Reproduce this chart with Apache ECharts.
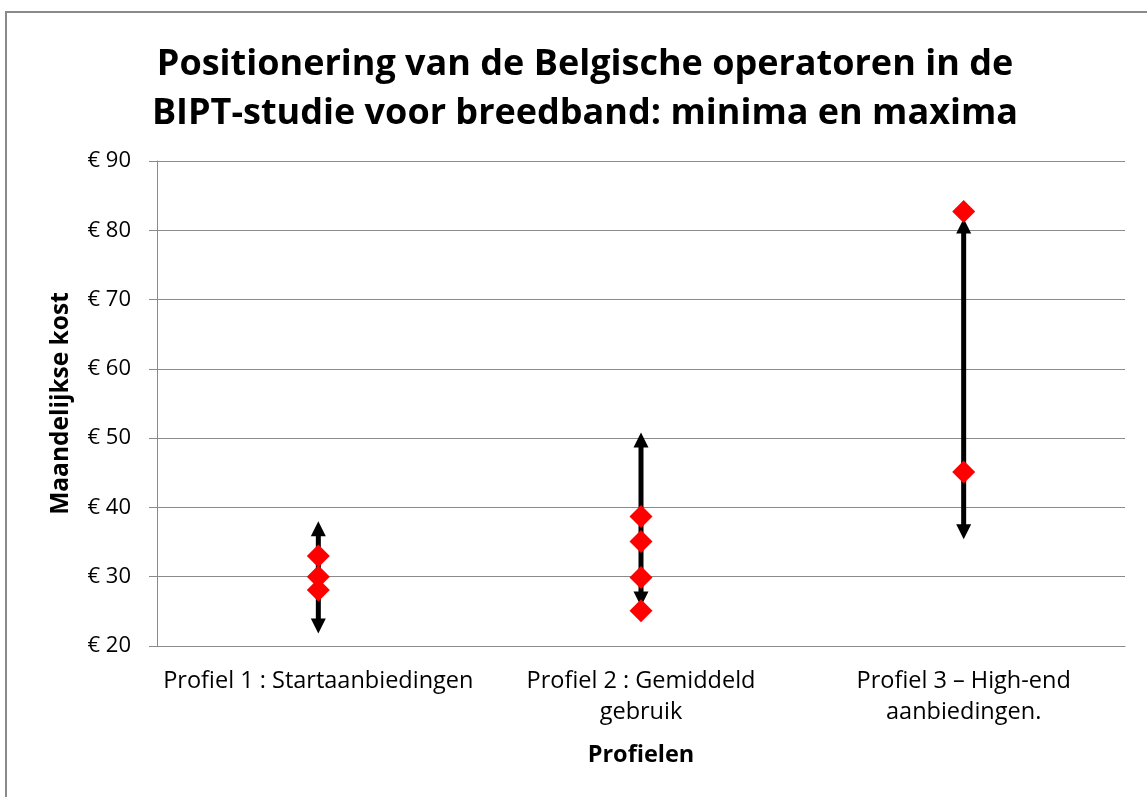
<!DOCTYPE html>
<html>
<head>
<meta charset="utf-8">
<script src="https://cdn.jsdelivr.net/npm/echarts@6/dist/echarts.min.js"></script>
<style>
html, body { margin: 0; padding: 0; background: #fff; }
#chart { width: 1147px; height: 797px; }
</style>
</head>
<body>
<div id="chart"></div>
<script>
// profielen op de x-as
var categories = ['Profiel 1 : Startaanbiedingen', 'Profiel 2 : Gemiddeld\ngebruik', 'Profiel 3 \u2013 High-end\naanbiedingen.'];
// pijlen: minimum en maximum per profiel
var rangeMin = [21.8, 25.7, 35.4];
var rangeMax = [38, 50.8, 81.7];
// prijzen van de operatoren (rode ruiten)
var profiel1Prices = [33, 30, 28.1];
var profiel2Prices = [38.7, 35.1, 29.9, 25.1];
var profiel3Prices = [82.7, 45.1];
var yTicks = [20, 30, 40, 50, 60, 70, 80, 90];

var font = '"Open Sans", sans-serif';

var arrowData = categories.map(function (c, i) { return [i, rangeMin[i], rangeMax[i]]; });
var pointData = [];
[profiel1Prices, profiel2Prices, profiel3Prices].forEach(function (arr, i) {
    arr.forEach(function (v) { pointData.push([i, v]); });
});

var myChart = echarts.init(document.getElementById('chart'));
var option = {
    backgroundColor: '#fff',
    animation: false,
    title: {
        text: 'Positionering van de Belgische operatoren in de\nBIPT-studie voor breedband: minima en maxima',
        left: 580,
        textAlign: 'center',
        top: 35,
        textStyle: {
            fontFamily: font,
            fontSize: 36,
            fontWeight: 'bold',
            color: '#000',
            lineHeight: 49
        }
    },
    graphic: [{
        type: 'rect',
        shape: { x: 6, y: 12, width: 1200, height: 850 },
        style: { fill: 'none', stroke: '#8a8a8a', lineWidth: 2 },
        silent: true
    }],
    grid: { left: 157, right: 22, top: 161, bottom: 151 },
    xAxis: {
        type: 'category',
        data: categories,
        name: 'Profielen',
        nameLocation: 'middle',
        nameGap: 97,
        nameTextStyle: { fontFamily: font, fontSize: 23.5, fontWeight: 'bold', color: '#000' },
        axisLine: { lineStyle: { color: '#8a8a8a', width: 1 } },
        axisTick: { show: false },
        axisLabel: {
            fontFamily: font, fontSize: 23.5, color: '#000', margin: 20,
            lineHeight: 31, interval: 0, align: 'center'
        }
    },
    yAxis: {
        type: 'value',
        min: 20,
        max: 90,
        interval: 10,
        name: 'Maandelijkse kost',
        nameLocation: 'middle',
        nameGap: 83,
        nameTextStyle: { fontFamily: font, fontSize: 24.5, fontWeight: 'bold', color: '#000' },
        axisLine: { show: true, lineStyle: { color: '#8a8a8a', width: 1 } },
        axisTick: { show: true, length: 8, lineStyle: { color: '#8a8a8a' } },
        splitLine: { lineStyle: { color: '#8a8a8a', width: 1 } },
        axisLabel: {
            fontFamily: font, fontSize: 22, color: '#000', margin: 26,
            formatter: function (v) { return yTicks.indexOf(v) >= 0 ? '\u20ac ' + v : ''; }
        }
    },
    series: [{
        type: 'custom',
        data: arrowData,
        z: 2,
        renderItem: function (params, api) {
            var lo = api.coord([api.value(0), api.value(1)]);
            var hi = api.coord([api.value(0), api.value(2)]);
            var x = lo[0], w = 7.5, h = 15;
            return {
                type: 'group',
                children: [{
                    type: 'line',
                    shape: { x1: x, y1: lo[1] - h + 2, x2: x, y2: hi[1] + h - 2 },
                    style: { stroke: '#000', lineWidth: 5 }
                }, {
                    type: 'polygon',
                    shape: { points: [[x, hi[1]], [x - w, hi[1] + h], [x + w, hi[1] + h]] },
                    style: { fill: '#000' }
                }, {
                    type: 'polygon',
                    shape: { points: [[x, lo[1]], [x - w, lo[1] - h], [x + w, lo[1] - h]] },
                    style: { fill: '#000' }
                }]
            };
        }
    }, {
        type: 'scatter',
        data: pointData,
        z: 3,
        symbol: 'diamond',
        symbolSize: [23, 23],
        itemStyle: { color: '#ff0000', opacity: 1 }
    }]
};
myChart.setOption(option);
</script>
</body>
</html>
